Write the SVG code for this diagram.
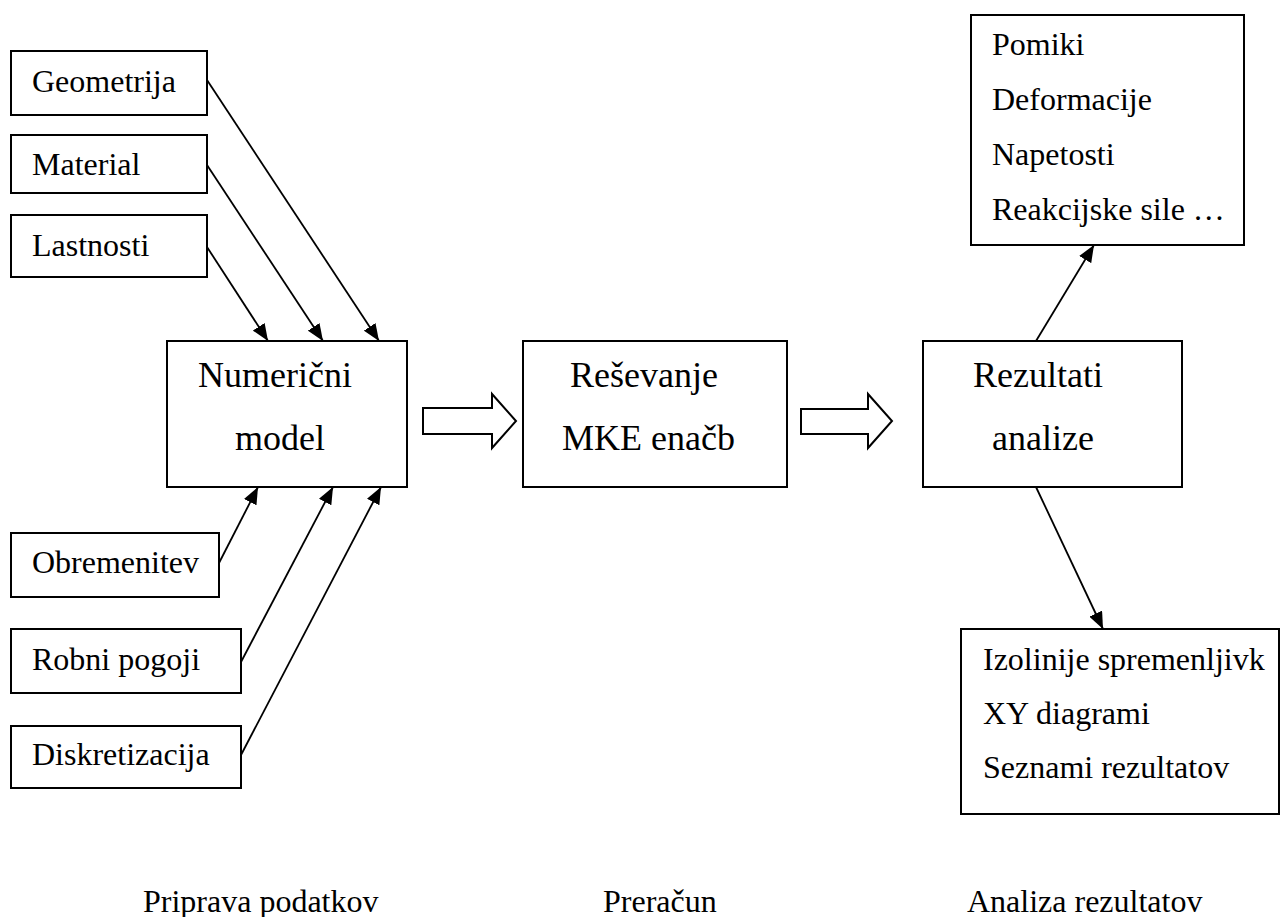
<svg xmlns="http://www.w3.org/2000/svg" width="1281" height="917" viewBox="0 0 1281 917">
<style>
.box{fill:#fff;stroke:#000;stroke-width:2}
.t{font-family:'Liberation Serif',serif;font-size:32px;fill:#000}
.tb{font-family:'Liberation Serif',serif;font-size:36px;fill:#000}
.ln{stroke:#000;stroke-width:1.8;fill:none;marker-end:url(#ah)}
.big{fill:#fff;stroke:#000;stroke-width:2}
</style>
<defs>
<marker id="ah" viewBox="0 0 17 14" refX="17" refY="7" markerWidth="17" markerHeight="14" markerUnits="userSpaceOnUse" orient="auto">
<path d="M0,0 L17,7 L0,14 z" fill="#000"/>
</marker>
</defs>
<rect width="1281" height="917" fill="#fff"/>
<g id="geometrija"><rect class="box" x="11" y="51" width="196" height="64"/><text class="t" x="32" y="92">Geometrija</text></g>
<g id="material"><rect class="box" x="11" y="135" width="196" height="58"/><text class="t" x="32" y="175">Material</text></g>
<g id="lastnosti"><rect class="box" x="11" y="215" width="196" height="62"/><text class="t" x="32" y="256">Lastnosti</text></g>
<g id="obremenitev"><rect class="box" x="11" y="533" width="208" height="64"/><text class="t" x="32" y="573">Obremenitev</text></g>
<g id="robni"><rect class="box" x="11" y="629" width="230" height="64"/><text class="t" x="32" y="670">Robni pogoji</text></g>
<g id="diskretizacija"><rect class="box" x="11" y="726" width="230" height="62"/><text class="t" x="32" y="765">Diskretizacija</text></g>
<g id="numericni"><rect class="box" x="167" y="341" width="240" height="146"/><text class="tb" x="198" y="387">Numerični</text><text class="tb" x="235" y="450">model</text></g>
<g id="resevanje"><rect class="box" x="523" y="341" width="264" height="146"/><text class="tb" x="570" y="387">Reševanje</text><text class="tb" x="562" y="450">MKE enačb</text></g>
<g id="rezultati"><rect class="box" x="923" y="341" width="259" height="146"/><text class="tb" x="973" y="387">Rezultati</text><text class="tb" x="992" y="450">analize</text></g>
<g id="rez_top"><rect class="box" x="971" y="15" width="273" height="230"/>
<text class="t" x="992" y="55">Pomiki</text>
<text class="t" x="992" y="110">Deformacije</text>
<text class="t" x="992" y="165">Napetosti</text>
<text class="t" x="992" y="220">Reakcijske sile …</text></g>
<g id="rez_bottom"><rect class="box" x="961" y="629" width="318" height="185"/>
<text class="t" x="983" y="670">Izolinije spremenljivk</text>
<text class="t" x="983" y="724">XY diagrami</text>
<text class="t" x="983" y="778">Seznami rezultatov</text></g>
<g id="labels">
<text class="t" x="143" y="912">Priprava podatkov</text>
<text class="t" x="603" y="912">Preračun</text>
<text class="t" x="967" y="912">Analiza rezultatov</text>
</g>
<g id="connectors">
<line class="ln" x1="207" y1="80" x2="379" y2="341"/>
<line class="ln" x1="207" y1="165" x2="323" y2="341"/>
<line class="ln" x1="207" y1="247" x2="268" y2="341"/>
<line class="ln" x1="219" y1="563" x2="258" y2="487"/>
<line class="ln" x1="241" y1="662" x2="333" y2="487"/>
<line class="ln" x1="241" y1="755" x2="381" y2="487"/>
<line class="ln" x1="1036" y1="341" x2="1094" y2="245"/>
<line class="ln" x1="1036" y1="487" x2="1103" y2="629"/>
<polygon class="big" points="423,408 492,408 492,394 516,421 492,448 492,434 423,434"/>
<polygon class="big" points="801,409 868,409 868,394 892,421 868,448 868,434 801,434"/>
</g>
</svg>
